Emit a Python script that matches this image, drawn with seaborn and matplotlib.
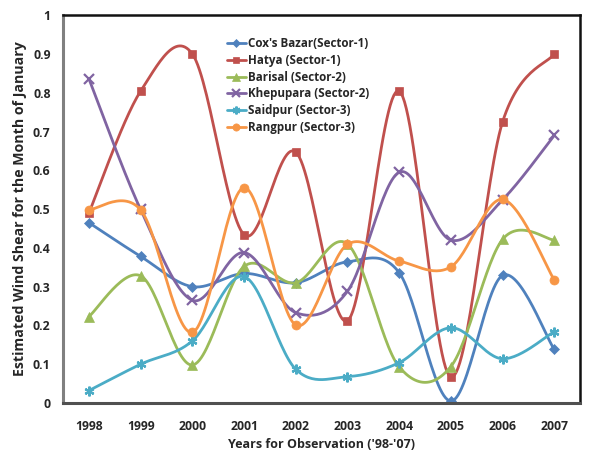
import numpy as np
import pandas as pd
import matplotlib
matplotlib.use("Agg")
import matplotlib.pyplot as plt
from matplotlib.lines import Line2D
import seaborn as sns

years = [1998, 1999, 2000, 2001, 2002, 2003, 2004, 2005, 2006, 2007]
series_names = ["Cox's Bazar(Sector-1)", "Hatya (Sector-1)", "Barisal (Sector-2)",
                "Khepupara (Sector-2)", "Saidpur (Sector-3)", "Rangpur (Sector-3)"]
cox = [0.465, 0.378, 0.300, 0.334, 0.310, 0.364, 0.336, 0.005, 0.329, 0.138]
hatya = [0.490, 0.804, 0.900, 0.434, 0.647, 0.212, 0.804, 0.067, 0.725, 0.900]
barisal = [0.223, 0.328, 0.098, 0.352, 0.310, 0.410, 0.093, 0.094, 0.422, 0.420]
khepupara = [0.836, 0.499, 0.265, 0.388, 0.233, 0.288, 0.595, 0.420, 0.524, 0.690]
saidpur = [0.032, 0.100, 0.160, 0.326, 0.087, 0.068, 0.104, 0.194, 0.114, 0.184]
rangpur = [0.498, 0.498, 0.182, 0.555, 0.201, 0.409, 0.366, 0.351, 0.525, 0.317]
values = [cox, hatya, barisal, khepupara, saidpur, rangpur]

colors = ["#4F81BD", "#C0504D", "#9BBB59", "#8064A2", "#4BACC6", "#F79646"]
markers = ["D", "s", "^", "x", (6, 2, 0), "o"]
msizes = [5, 6, 6.5, 7, 7, 6.5]

def smooth(xs, ys, n=30):
    xs = np.asarray(xs, float); ys = np.asarray(ys, float)
    P = np.column_stack([xs, ys])
    P = np.vstack([P[0], P, P[-1]])
    out = []
    for i in range(1, len(P) - 2):
        p0, p1, p2, p3 = P[i - 1], P[i], P[i + 1], P[i + 2]
        c1 = p1 + (p2 - p0) / 6.0
        c2 = p2 - (p3 - p1) / 6.0
        t = np.linspace(0, 1, n)[:, None]
        b = ((1 - t) ** 3) * p1 + 3 * ((1 - t) ** 2) * t * c1 + 3 * (1 - t) * t ** 2 * c2 + t ** 3 * p2
        out.append(b if i == 1 else b[1:])
    r = np.vstack(out)
    return r[:, 0], r[:, 1]

sns.set_style("white")
plt.rcParams['font.family'] = ['Open Sans', 'DejaVu Sans']
plt.rcParams['font.weight'] = 'bold'

fig = plt.figure(figsize=(6.12, 4.59), dpi=100)
ax = fig.add_axes([0.103, 0.122, 0.845, 0.845])

idx = np.arange(len(years))
handles = []
for name, vals, c, m, ms in zip(series_names, values, colors, markers, msizes):
    sx, sy = smooth(idx, vals)
    df = pd.DataFrame({"x": sx, "y": sy})
    sns.lineplot(data=df, x="x", y="y", ax=ax, color=c, lw=2.0, sort=False,
                 estimator=None, legend=False)
    mk = dict(marker=m, color=c, mfc=c, mec=c, mew=1.6 if m in ("x", (6, 2, 0)) else 0.5)
    ax.plot(idx, vals, ls="none", ms=ms, **mk)
    handles.append(Line2D([0], [0], lw=2.0, ms=ms * 0.8, **mk))

ax.set_xlim(-0.5, len(years) - 0.5)
ax.set_ylim(0, 1)
ax.set_xticks(idx)
ax.set_xticklabels([str(y) for y in years], fontsize=8.8, fontweight='bold')
yt = np.round(np.arange(0, 1.01, 0.1), 1)
ax.set_yticks(yt)
ax.set_yticklabels(["0" if v == 0 else ("1" if v == 1 else f"{v:g}") for v in yt],
                   fontsize=8.8, fontweight='bold')
ax.tick_params(axis='both', direction='in', length=4, width=0.9, color='#8c8c8c')
ax.tick_params(axis='y', pad=9)
ax.tick_params(axis='x', pad=12)
ax.spines['left'].set_color('#808080')
ax.spines['left'].set_linewidth(2.2)
ax.spines['bottom'].set_color('#505050')
ax.spines['bottom'].set_linewidth(2.2)
for s in ('top', 'right'):
    ax.spines[s].set_color('#111111')
    ax.spines[s].set_linewidth(1.8)
ax.set_xlabel("Years for Observation ('98-'07)", fontsize=9, fontweight='bold', labelpad=4)
ax.set_ylabel("Estimated Wind Shear for the Month of January", fontsize=10.2,
              fontweight='bold', labelpad=4)

leg = ax.legend(handles, series_names, loc='upper left', bbox_to_anchor=(0.317, 0.943),
                frameon=False, fontsize=8.4, handlelength=1.6, handletextpad=0.18,
                labelspacing=0.32, borderaxespad=0, borderpad=0)
for t in leg.get_texts():
    t.set_fontweight('bold')

fig.savefig("out.png", dpi=100)
